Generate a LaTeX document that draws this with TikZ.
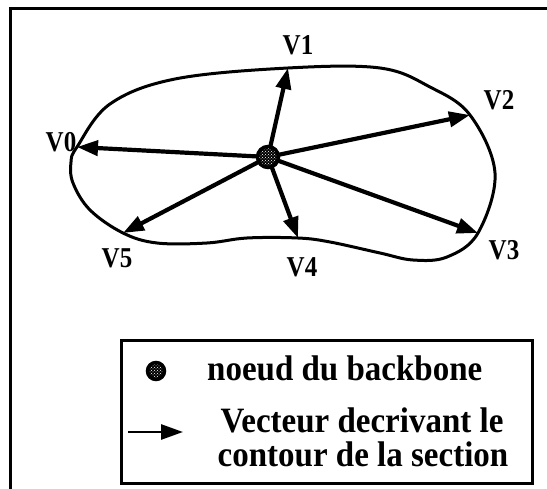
\documentclass[tikz,border=0pt]{standalone}
\usepackage{fontspec}
\setmainfont{Liberation Serif}
\usetikzlibrary{arrows.meta,patterns}
\tikzset{
  vec/.style={line width=4.2pt,-{Triangle[length=21pt,width=15pt]}},
  contourline/.style={line width=3pt},
  frameline/.style={line width=3pt},
  bbnode/.style={circle,draw=black,line width=3.5pt,minimum size=#1,inner sep=0pt,
    preaction={fill=black},pattern=crosshatch dots,pattern color=white},
  vlab/.style={font=\fontsize{25}{25}\selectfont\bfseries,anchor=base,inner sep=0pt},
  legtext/.style={font=\fontsize{33}{35}\selectfont\bfseries,inner sep=0pt}
}
\newcommand\tallv[1]{\scalebox{1}[1.15]{#1}}
\newcommand\tallt[1]{\scalebox{1}[1.08]{#1}}
\begin{document}
\begin{tikzpicture}[x=1pt,y=-1pt]
\useasboundingbox (0,0) rectangle (547,489);
\clip (0,0) rectangle (547,489);
% outer frame (right and bottom edges fall outside the picture)
\draw[frameline] (10,9) rectangle (560,500);
% contour
\draw[contourline] plot[smooth cycle,tension=0.6] coordinates {
 (77,147) (110,104) (175,79) (288,68) (380,68) (430,87) (470,115)
 (495,173) (478,233) (447,257) (413,260) (380,253) (330,242) (298,238)
 (247,238) (207,243) (157,243) (123,233) (90,210) (73,183) (71,162)};
% tips
\coordinate (v0) at (77,147);
\coordinate (v1) at (288,68);
\coordinate (v2) at (470,115);
\coordinate (v3) at (478,233);
\coordinate (v4) at (298,238);
\coordinate (v5) at (123,233);
\coordinate (c0) at (268,157);
\foreach \i in {0,...,5} \draw[vec] (c0) -- (v\i);
\node[bbnode=21pt] (c) at (c0) {};
% labels
\node[vlab] (l0) at (61,152) {\tallv{V0}};
\node[vlab] (l1) at (298,55) {\tallv{V1}};
\node[vlab] (l2) at (499,110) {\tallv{V2}};
\node[vlab] (l3) at (504,260) {\tallv{V3}};
\node[vlab] (l4) at (302,277) {\tallv{V4}};
\node[vlab] (l5) at (117,268) {\tallv{V5}};
% legend
\draw[frameline] (121,341) rectangle (532,483);
\node[bbnode=17pt] (ld) at (156,371) {};
\coordinate (la) at (128,432);
\coordinate (lb) at (183,432);
\draw[line width=2.8pt,-{Triangle[length=22pt,width=15pt]}] (la) -- (lb);
\node[legtext,anchor=base west] (t1) at (207,381) {\tallt{noeud du backbone}};
\node[legtext,anchor=base] (t2) at (362,432) {\tallt{Vecteur decrivant le}};
\node[legtext,anchor=base] (t3) at (363,467) {\tallt{contour de la section}};
\end{tikzpicture}
\end{document}
